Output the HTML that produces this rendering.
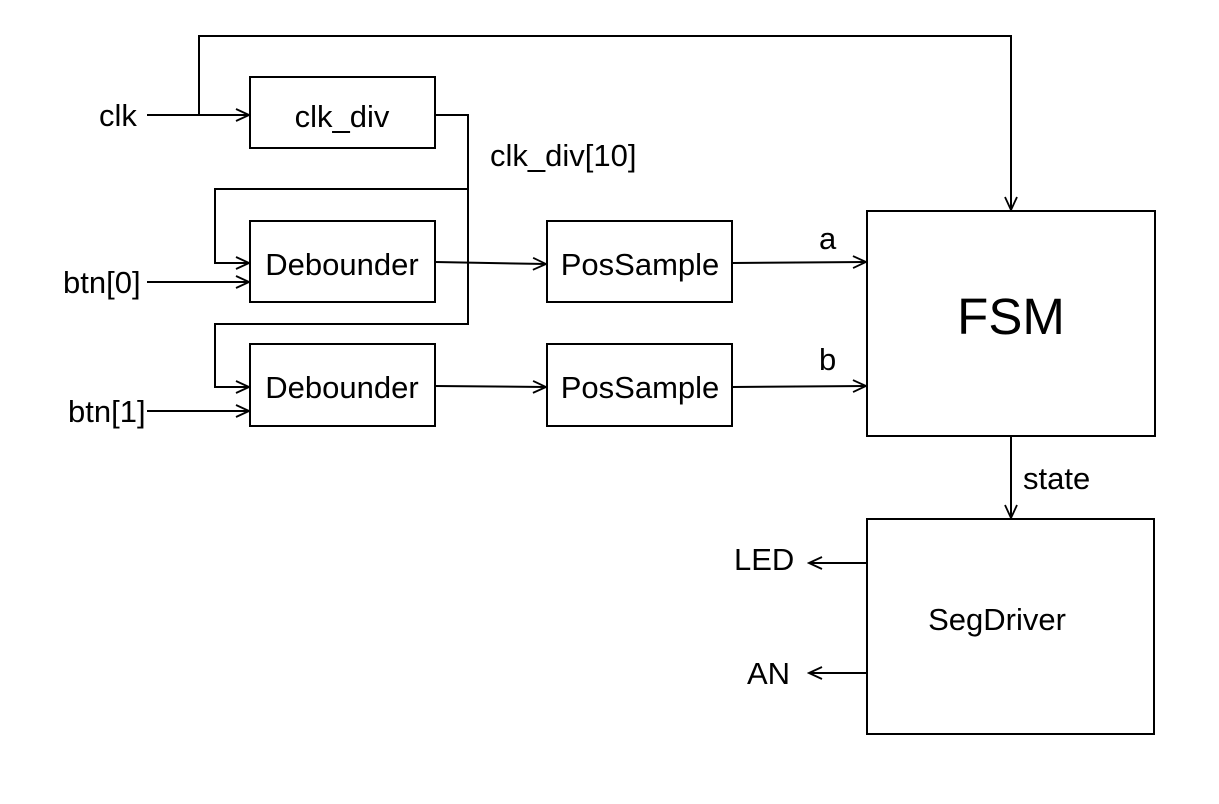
<!DOCTYPE html>
<html><head><style>
html,body{margin:0;padding:0;background:#fff;}
svg text{font-family:"Liberation Sans",Arial,sans-serif;fill:#000;}
</style></head><body>
<svg width="1219" height="799" viewBox="0 0 1219 799" xmlns="http://www.w3.org/2000/svg">
<defs>
<marker id="a" markerWidth="16" markerHeight="14" refX="14" refY="7" orient="auto" markerUnits="userSpaceOnUse">
<path d="M1,1 L14,7 L1,13" fill="none" stroke="#000" stroke-width="1.8"/>
</marker>
</defs>
<g fill="none" stroke="#000" stroke-width="2">
<rect x="250" y="77" width="185" height="71"/>
<rect x="250" y="221" width="185" height="81"/>
<rect x="250" y="344" width="185" height="82"/>
<rect x="547" y="221" width="185" height="81"/>
<rect x="547" y="344" width="185" height="82"/>
<rect x="867" y="211" width="288" height="225"/>
<rect x="867" y="519" width="287" height="215"/>
</g>
<g fill="none" stroke="#000" stroke-width="2">
<path d="M147,115 L249,115" marker-end="url(#a)"/>
<path d="M199,115 L199,36 L1011,36 L1011,210" marker-end="url(#a)"/>
<path d="M435,115 L468,115 L468,324 L215,324 L215,387 L249,387" marker-end="url(#a)"/>
<path d="M468,189 L215,189 L215,263 L249,263" marker-end="url(#a)"/>
<path d="M147,282 L249,282" marker-end="url(#a)"/>
<path d="M147,411 L249,411" marker-end="url(#a)"/>
<path d="M435,262 L546,264" marker-end="url(#a)"/>
<path d="M435,386 L546,387" marker-end="url(#a)"/>
<path d="M732,263 L866,262" marker-end="url(#a)"/>
<path d="M732,387 L866,386" marker-end="url(#a)"/>
<path d="M1011,436 L1011,518" marker-end="url(#a)"/>
<path d="M867,563 L809,563" marker-end="url(#a)"/>
<path d="M867,673 L809,673" marker-end="url(#a)"/>
</g>
<g font-size="31">
<text x="99" y="126">clk</text>
<text x="342" y="127" text-anchor="middle">clk_div</text>
<text x="490" y="166">clk_div[10]</text>
<text x="342" y="275" text-anchor="middle">Debounder</text>
<text x="342" y="398" text-anchor="middle">Debounder</text>
<text x="640" y="275" text-anchor="middle">PosSample</text>
<text x="640" y="398" text-anchor="middle">PosSample</text>
<text x="63" y="293">btn[0]</text>
<text x="68" y="422">btn[1]</text>
<text x="819" y="249">a</text>
<text x="819" y="370">b</text>
<text x="1023" y="489">state</text>
<text x="734" y="570">LED</text>
<text x="747" y="684">AN</text>
<text x="997" y="630" text-anchor="middle">SegDriver</text>
</g>
<text x="1011" y="334" font-size="51" text-anchor="middle">FSM</text>
</svg>
</body></html>
